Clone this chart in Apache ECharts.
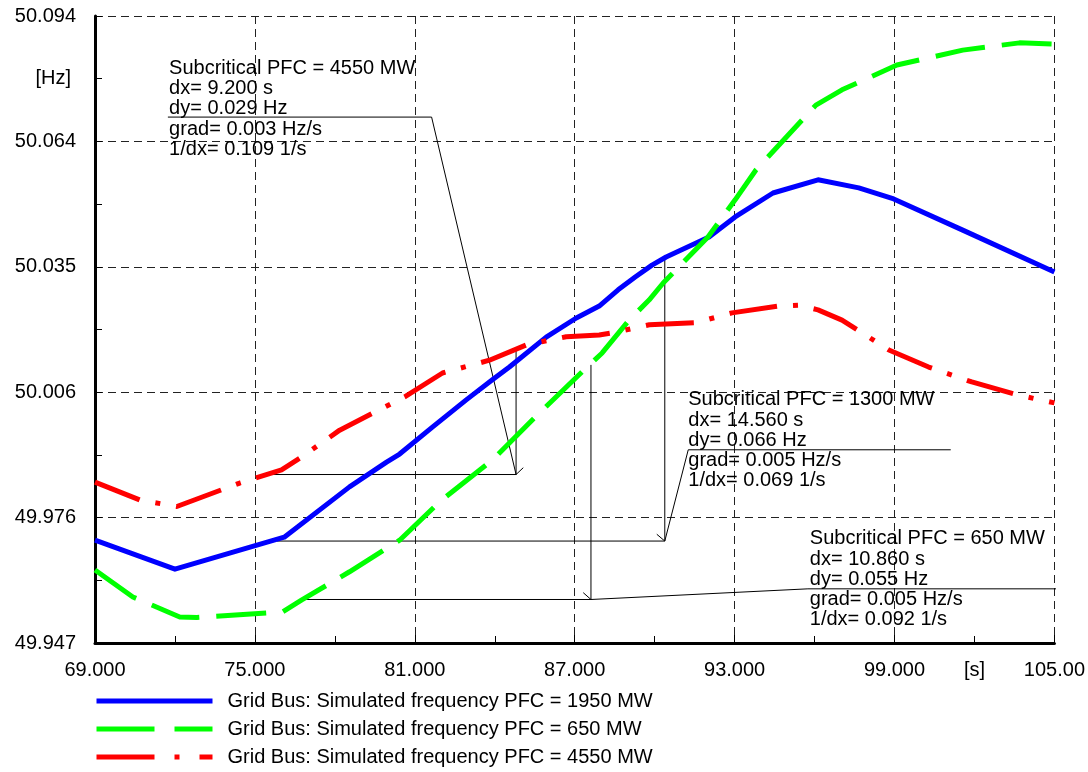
<!DOCTYPE html>
<html><head><meta charset="utf-8">
<script src="https://cdn.jsdelivr.net/npm/echarts@6/dist/echarts.min.js"></script>
<style>html,body{margin:0;padding:0;background:#fff}#c{width:1088px;height:772px}</style>
</head><body><div id="c"></div>
<script>
// ---- axis ticks ----
const xMajorTicks = [69, 75, 81, 87, 93, 99, 105];
const xTickLabels = ['69.000', '75.000', '81.000', '87.000', '93.000', '99.000', '105.00'];
const xMinorTicks = [72, 78, 84, 90, 96, 102];
const xUnitTick = 102, xUnitLabel = '[s]';
const yMajorTicks = [49.9468, 49.9762, 50.0056, 50.0350, 50.0644, 50.0938];
const yTickLabels = ['49.947', '49.976', '50.006', '50.035', '50.064', '50.094'];
const yMinorTicks = [49.9615, 49.9909, 50.0203, 50.0497, 50.0791];
const yUnitTick = 50.0791, yUnitLabel = '[Hz]';

// ---- series ----
const seriesNames = [
  'Grid Bus: Simulated frequency PFC = 1950 MW',
  'Grid Bus: Simulated frequency PFC = 650 MW',
  'Grid Bus: Simulated frequency PFC = 4550 MW'
];
const blueT = [69.0, 72.0, 76.1, 78.55, 79.94, 80.43, 81.66, 82.93, 83.91, 84.55, 85.93, 87.06, 87.92, 88.63, 89.27, 89.9, 90.43, 92.04, 93.02, 94.44, 96.13, 97.66, 98.97, 101.56, 105.0];
const blueV = [49.9709, 49.9641, 49.9716, 49.9834, 49.9892, 49.9911, 49.9974, 50.0038, 50.0085, 50.0115, 50.0185, 50.0230, 50.0258, 50.0296, 50.0326, 50.0354, 50.0373, 50.0420, 50.0467, 50.0523, 50.0554, 50.0535, 50.0509, 50.0436, 50.0338];
const greenT = [69.0, 70.42, 72.18, 72.82, 76.04, 76.76, 78.55, 80.43, 81.93, 83.91, 85.67, 87.43, 88.03, 89.04, 89.79, 90.32, 92.0, 93.02, 93.8, 96.05, 97.03, 99.09, 101.56, 103.69, 105.0];
const greenV = [49.9639, 49.9576, 49.9529, 49.9528, 49.9541, 49.9569, 49.9635, 49.9709, 49.9799, 49.9897, 50.0007, 50.0113, 50.0148, 50.0225, 50.0272, 50.0312, 50.0420, 50.0507, 50.0577, 50.0729, 50.0765, 50.0823, 50.0858, 50.0875, 50.0872];
const redT = [69.0, 70.69, 72.07, 74.43, 76.0, 76.68, 78.18, 80.62, 82.04, 83.8, 85.19, 86.68, 87.92, 88.4, 89.8, 91.55, 92.9, 94.63, 95.4, 96.13, 97.03, 98.79, 100.28, 101.9, 103.66, 105.0];
const redV = [49.9845, 49.9803, 49.9788, 49.9843, 49.9874, 49.9901, 49.9967, 50.0045, 50.0101, 50.0131, 50.0167, 50.0186, 50.0190, 50.0195, 50.0214, 50.0219, 50.0242, 50.0258, 50.0260, 50.0249, 50.0225, 50.0155, 50.0115, 50.0080, 50.0049, 50.0031];

// ---- gradient annotations ----
const annoTitles = ['Subcritical PFC = 4550 MW', 'Subcritical PFC = 1300 MW', 'Subcritical PFC = 650 MW'];
const annoDx = [9.2, 14.56, 10.86];
const annoDy = [0.029, 0.066, 0.055];
const annoGrad = [0.003, 0.005, 0.005];
const annoInvDx = [0.109, 0.069, 0.092];
const annoEndT = [84.80, 90.38, 87.61];
const annoBaseV = [49.9863, 49.9707, 49.9570];
const annoElbowT = [81.63, 91.26, 95.75];
const annoElbowV = [50.0701, 49.9921, 49.9595];
const annoRuleEndT = [71.735, 101.11, 105.19];
const annoTextT = [71.80, 91.28, 95.84];
const annoTextV = [50.0838, 50.0061, 49.9735];
const annoTickDt = [0.27, -0.30, -0.29];
const annoTickDv = [0.0016, 0.0016, 0.0016];

const FONT = "'Liberation Sans', Arial, sans-serif";
const pairs = (ts, vs) => ts.map((t, i) => [t, vs[i]]);
const near = (arr, v) => { let b = 0; arr.forEach((a, i) => { if (Math.abs(a - v) < Math.abs(arr[b] - v)) b = i; }); return b; };

const colors = ['#0000ff', '#00ff00', '#ff0000'];
const dashes = ['solid', [50, 17], [48, 16, 5, 16]];
const legendDashes = ['solid', [58, 20], [58, 20, 5, 20]];
const curveData = [pairs(blueT, blueV), pairs(greenT, greenV), pairs(redT, redV)];

const series = [];
const annoStyle = { color: '#000', width: 1 };
for (let i = 0; i < 3; i++) {
  const t1 = annoEndT[i], v0 = annoBaseV[i];
  const paths = [
    [[t1 - annoDx[i], v0], [t1, v0], [t1, v0 + annoDy[i]]],
    [[t1, v0], [annoElbowT[i], annoElbowV[i]], [annoRuleEndT[i], annoElbowV[i]]],
    [[t1, v0], [t1 + annoTickDt[i], v0 + annoTickDv[i]]]
  ];
  paths.forEach(p => series.push({
    type: 'line', data: p, symbol: 'none', silent: true, clip: false, z: 3,
    lineStyle: annoStyle, animation: false
  }));
}
for (let i = 0; i < 3; i++) {
  series.push({
    name: seriesNames[i], type: 'line', data: curveData[i], symbol: 'none', z: 5,
    lineStyle: { color: colors[i], width: 5, type: dashes[i], cap: 'butt', join: 'round' },
    itemStyle: { color: colors[i] }, animation: false
  });
}
series.push({
  type: 'scatter', symbol: 'circle', symbolSize: 1, silent: true, z: 6,
  itemStyle: { color: '#fff', opacity: 0 },
  data: annoTitles.map((title, i) => ({
    name: [title,
      'dx= ' + annoDx[i].toFixed(3) + ' s',
      'dy= ' + annoDy[i].toFixed(3) + ' Hz',
      'grad= ' + annoGrad[i].toFixed(3) + ' Hz/s',
      '1/dx= ' + annoInvDx[i].toFixed(3) + ' 1/s'].join('\n'),
    value: [annoTextT[i], annoTextV[i]]
  })),
  label: {
    show: true, formatter: '{b}', position: [0, 0], align: 'left', verticalAlign: 'top',
    fontSize: 20, lineHeight: 20.3, fontFamily: FONT, color: '#000', opacity: 1,
    textBorderWidth: 0, textBorderColor: 'transparent', textShadowBlur: 0
  },
  labelLayout: { hideOverlap: false },
  animation: false
});

const gridLine = { show: true, lineStyle: { color: '#222', width: 1, type: [8, 5] } };
const lbl = { fontSize: 20, fontFamily: FONT, color: '#000' };

const option = {
  animation: false,
  backgroundColor: '#fff',
  grid: { left: 95, right: 32, top: 16, bottom: 129, containLabel: false },
  legend: {
    data: seriesNames.map((n, i) => ({ name: n, lineStyle: { type: legendDashes[i], width: 5, cap: 'butt' } })),
    orient: 'vertical', left: 94, top: 691, height: 100, padding: 0,
    itemWidth: 116, itemHeight: 14, itemGap: 8, selectedMode: false,
    itemStyle: { opacity: 0, borderWidth: 0 },
    lineStyle: { width: 5, cap: 'butt' },
    textStyle: { fontSize: 20, fontFamily: FONT, color: '#000', padding: [0, 0, 0, 10] }
  },
  xAxis: [
    {
      type: 'value', min: 69, max: 105, position: 'bottom',
      axisLine: { show: true, onZero: false, lineStyle: { color: '#000', width: 3 } },
      axisTick: { show: true, inside: true, length: 8, customValues: xMajorTicks, lineStyle: { color: '#000', width: 1 } },
      axisLabel: Object.assign({ customValues: xMajorTicks, margin: 17, formatter: v => xTickLabels[near(xMajorTicks, v)] }, lbl),
      splitLine: gridLine
    },
    {
      type: 'value', min: 69, max: 105, position: 'bottom',
      axisLine: { show: false },
      axisTick: { show: true, inside: true, length: 7, customValues: xMinorTicks, lineStyle: { color: '#000', width: 1 } },
      axisLabel: Object.assign({ customValues: [xUnitTick], margin: 17, formatter: () => xUnitLabel }, lbl),
      splitLine: { show: false }
    }
  ],
  yAxis: [
    {
      type: 'value', min: yMajorTicks[0], max: yMajorTicks[yMajorTicks.length - 1], position: 'left',
      axisLine: { show: true, onZero: false, lineStyle: { color: '#000', width: 3 } },
      axisTick: { show: true, inside: true, length: 7, customValues: yMajorTicks, lineStyle: { color: '#000', width: 1 } },
      axisLabel: Object.assign({ customValues: yMajorTicks, margin: 19, formatter: v => yTickLabels[near(yMajorTicks, v)] }, lbl),
      splitLine: gridLine
    },
    {
      type: 'value', min: yMajorTicks[0], max: yMajorTicks[yMajorTicks.length - 1], position: 'left',
      axisLine: { show: false },
      axisTick: { show: true, inside: true, length: 7, customValues: yMinorTicks, lineStyle: { color: '#000', width: 1 } },
      axisLabel: Object.assign({ customValues: [yUnitTick], margin: 24, formatter: () => yUnitLabel }, lbl),
      splitLine: { show: false }
    }
  ],
  series: series
};
const chart = echarts.init(document.getElementById('c'), null, { renderer: 'canvas' });
chart.setOption(option);
</script>
</body></html>
